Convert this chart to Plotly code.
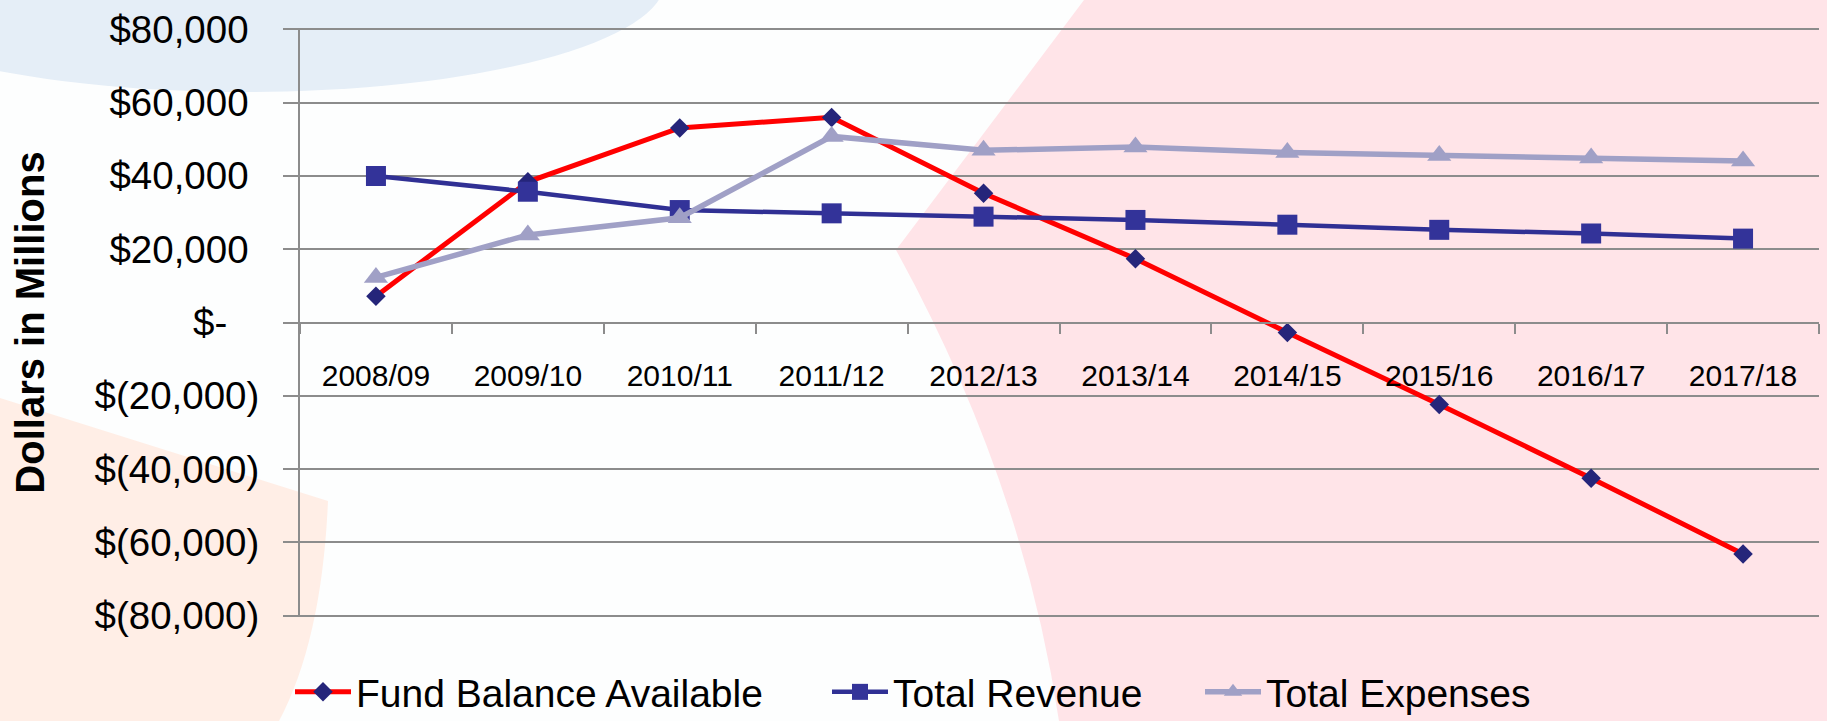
import plotly.graph_objects as go

# ---------------- data ----------------
years = ["2008/09", "2009/10", "2010/11", "2011/12", "2012/13",
         "2013/14", "2014/15", "2015/16", "2016/17", "2017/18"]
fund_balance = [7200, 38400, 53100, 56000, 35300, 17400, -2700, -22400, -42500, -63200]
total_revenue = [40000, 35700, 30700, 29800, 28900, 28000, 26700, 25300, 24300, 22900]
total_expenses = [12300, 23900, 28600, 50800, 47000, 47900, 46400, 45600, 44900, 44100]

y_tick_values = [80000, 60000, 40000, 20000, 0, -20000, -40000, -60000, -80000]
NB = "\u00a0"
y_tick_labels = ["$80,000" + NB, "$60,000" + NB, "$40,000" + NB, "$20,000" + NB,
                 "$-" + NB * 3, "$(20,000)", "$(40,000)", "$(60,000)", "$(80,000)"]

# ---------------- layout geometry ----------------
W, H = 1827, 721
ML, MR, MT, MB = 300, 8, 28, 104
PW, PH = W - ML - MR, H - MT - MB


def px(x):
    return (x - ML) / PW


def py(y):
    return (H - MB - y) / PH


def path(cmds):
    out = []
    for c in cmds:
        if isinstance(c, str):
            out.append(c)
        else:
            out.append(f"{px(c[0]):.5f},{py(c[1]):.5f}")
    return " ".join(out)


FONT = "Liberation Sans, Arial, sans-serif"
GRID = "#8C8C8C"

fig = go.Figure()
fig.add_trace(go.Scatter(
    x=years, y=fund_balance, name="Fund Balance Available", mode="lines+markers",
    line=dict(color="#FF0000", width=5),
    marker=dict(symbol="diamond", size=15, color="#25257A"),
    legendwidth=466,
))
fig.add_trace(go.Scatter(
    x=years, y=total_revenue, name="Total Revenue", mode="lines+markers",
    line=dict(color="#303094", width=4.5),
    marker=dict(symbol="square", size=20, color="#333399"),
    legendwidth=302,
))
fig.add_trace(go.Scatter(
    x=years, y=total_expenses, name="Total Expenses", mode="lines+markers",
    line=dict(color="#A0A0C6", width=5.5),
    marker=dict(symbol="triangle-up", size=21, color="#A0A0C6"),
    legendwidth=270,
))

shapes = [
    # light blue ellipse top-left
    dict(type="circle", xref="paper", yref="paper", layer="below",
         x0=px(245 - 420), x1=px(245 + 420), y0=py(-19 - 111), y1=py(-19 + 111),
         fillcolor="#E5EEF7", line=dict(width=0)),
    # peach region bottom-left
    dict(type="path", xref="paper", yref="paper", layer="below",
         path=path(["M", (0, 398), "L", (328, 501), "Q", (322, 640), (279, 721),
                    "L", (0, 721), "Z"]),
         fillcolor="#FFEEE6", line=dict(width=0)),
    # pink region right
    dict(type="path", xref="paper", yref="paper", layer="below",
         path=path(["M", (1084, 0), "L", (896, 250), "Q", (1023, 481), (1059, 721),
                    "L", (1827, 721), "L", (1827, 0), "Z"]),
         fillcolor="#FFE4E8", line=dict(width=0)),
]

fig.update_layout(
    width=W, height=H,
    margin=dict(l=ML, r=MR, t=MT, b=MB, pad=0, autoexpand=False),
    paper_bgcolor="#FDFEFE",
    plot_bgcolor="rgba(0,0,0,0)",
    shapes=shapes,
    showlegend=True,
    legend=dict(
        orientation="h", xref="container", yref="container",
        x=290 / W, xanchor="left", y=1 - 692 / H, yanchor="middle",
        font=dict(family=FONT, size=39, color="#000000"),
        bgcolor="rgba(0,0,0,0)", itemwidth=56, traceorder="normal",
        borderwidth=0,
    ),
    font=dict(family=FONT, color="#000000"),
)

fig.update_xaxes(
    type="category", range=[-0.5, 9.5],
    anchor="free", position=0.5, automargin=False,
    showline=True, linecolor=GRID, linewidth=2,
    ticks="outside", tickson="boundaries", ticklen=10, tickwidth=2, tickcolor=GRID,
    ticklabelstandoff=26,
    tickfont=dict(family=FONT, size=30, color="#000000"),
    showgrid=False, zeroline=False,
)

fig.update_yaxes(
    range=[-80400, 80400], automargin=False,
    tickmode="array", tickvals=y_tick_values, ticktext=y_tick_labels,
    showline=True, linecolor=GRID, linewidth=2,
    ticks="outside", ticklen=15, tickwidth=2, tickcolor=GRID,
    ticklabelstandoff=16,
    tickfont=dict(family=FONT, size=38.5, color="#000000"),
    showgrid=True, gridcolor=GRID, gridwidth=2, zeroline=False,
    title=dict(text="<b>Dollars in Millions</b>", standoff=37,
               font=dict(family=FONT, size=40, color="#000000")),
)

fig.write_html("out.html")
